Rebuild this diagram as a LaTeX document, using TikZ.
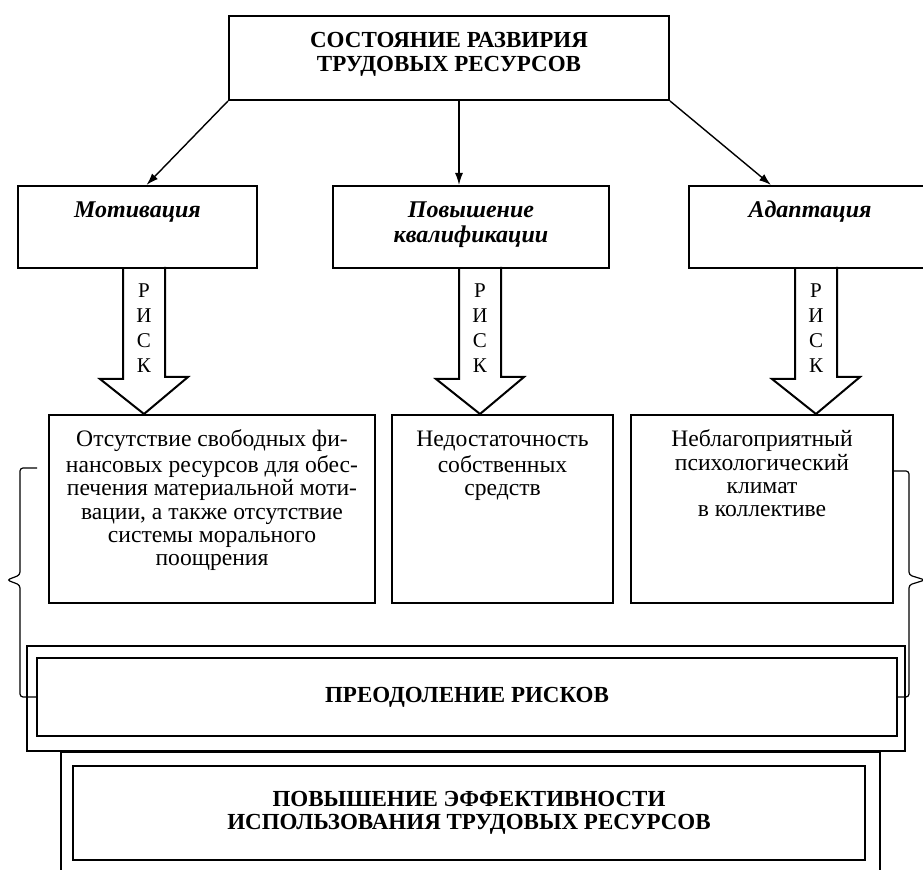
\documentclass[tikz,border=0pt]{standalone}
\usepackage{fontspec}
\setmainfont{Liberation Serif}
\usetikzlibrary{arrows.meta,calc}

% text set at the top of a box: width, height, text
\newcommand{\boxtext}[3]{\parbox[c][#2][t]{#1}{\centering\vspace*{7.5pt}\strut#3}}

\begin{document}
\begin{tikzpicture}[x=0.5pt, y=-0.5pt, >={Latex[length=6pt,width=4pt]}]
\tikzstyle{block} = [rectangle, draw, line width=1pt, inner sep=0pt, anchor=north west]
\tikzstyle{title} = [font=\fontsize{11.5}{11.8}\selectfont\bfseries]
\tikzstyle{kind} = [font=\fontsize{12}{11.5}\selectfont\bfseries\itshape]
\tikzstyle{plain} = [font=\fontsize{11.8}{11.6}\selectfont]
\tikzstyle{link} = [->, line width=0.7pt]
\tikzstyle{riskarrow} = [draw, line width=1pt]
\tikzstyle{brace} = [draw, line width=0.6pt, rounded corners=1.5pt]

\useasboundingbox (0,0) rectangle (923,870);

\node[block, title] (top) at (228,15) {\boxtext{220pt}{42pt}{СОСТОЯНИЕ РАЗВИРИЯ\\ТРУДОВЫХ РЕСУРСОВ}};

\node[block, kind] (motiv) at (17,185) {\boxtext{119.5pt}{41pt}{Мотивация}};
\node[block, kind] (skill) at (332,185) {\boxtext{138pt}{41pt}{Повышение\\квалификации}};
\node[block, kind] (adapt) at (688,185) {\boxtext{121pt}{41pt}{Адаптация}};

\node[block, plain] (lack1) at (48,414) {\boxtext{163pt}{94pt}{Отсутствие свободных фи-\\нансовых ресурсов для обес-\\печения материальной моти-\\вации, а также отсутствие\\системы морального\\поощрения}};
\node[block, plain] (lack2) at (391,414) {\boxtext{110.5pt}{94pt}{Недостаточность\\собственных\\средств}};
\node[block, plain] (lack3) at (630,414) {\boxtext{131pt}{94pt}{Неблагоприятный\\психологический\\климат\\в коллективе}};

\node[block, anchor=center, minimum width=439pt, minimum height=52.5pt] (outer) at (466,698.5) {};
\node[block, anchor=center, title, minimum width=430pt, minimum height=39pt] (overcome) at (467,697) {ПРЕОДОЛЕНИЕ РИСКОВ};
\node[block, minimum width=409.5pt, minimum height=80pt] (frame) at (60,751) {};
\node[block, anchor=center, title, align=center, minimum width=396pt, minimum height=47pt] (effect) at (469,813) {ПОВЫШЕНИЕ ЭФФЕКТИВНОСТИ\\ИСПОЛЬЗОВАНИЯ ТРУДОВЫХ РЕСУРСОВ};

\draw[link] (top.south west) -- ($(motiv.north)+(9,0)$);
\coordinate (midtop) at ($(top.south)+(10,0)$);
\draw[link] (midtop) -- (midtop |- skill.north);
\draw[link] (top.south east) -- ($(adapt.north)+(-39,0)$);

\foreach \x/\src/\dst in {144/motiv/lack1, 480/skill/lack2, 816/adapt/lack3} {
  \draw[riskarrow] (\x,0 |- \src.south) ++(-21,0) -- ++(0,110) -- ++(-23,0) -- (\x,0 |- \dst.north) -- ++(44,-37) -- ++(-23,0) -- ++(0,-110);
  \node[align=center, font=\fontsize{10.5}{12.5}\selectfont] (risk-\src) at (\x,328) {Р\\И\\С\\К};
}

\draw[brace] ($(lack1.north west)+(-11,54)$) -- ++(-17,0) -- ++(0,107) -- ++(-13,5) -- ++(13,5) |- (overcome.west);
\draw[brace] ($(lack3.north east)+(0,57)$) -- ++(15,0) -- ++(0,104) -- ++(16,5) -- ++(-16,5) |- (overcome.east);

\end{tikzpicture}
\end{document}
